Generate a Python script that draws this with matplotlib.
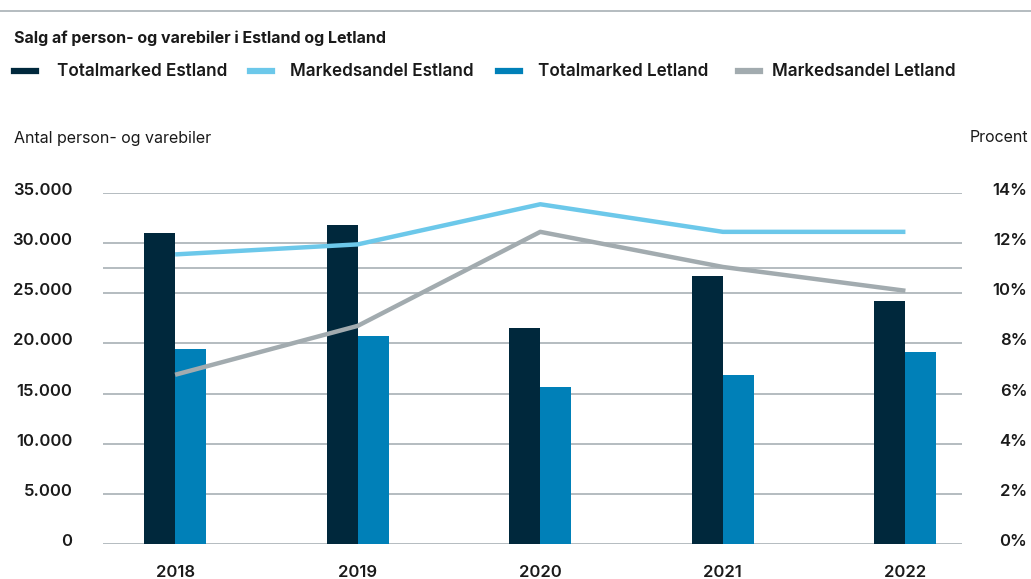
import matplotlib.pyplot as plt
import matplotlib.transforms as mtransforms
import numpy as np

plt.rcParams['font.family'] = ['Inter', 'DejaVu Sans']

# data
years = ['2018', '2019', '2020', '2021', '2022']
total_estland = [31000, 31800, 21500, 26700, 24200]
total_letland = [19400, 20700, 15650, 16850, 19100]
andel_estland = [11.55, 11.95, 13.55, 12.45, 12.45]
andel_letland = [6.75, 8.7, 12.45, 11.05, 10.1]
left_ticks = [0, 5000, 10000, 15000, 20000, 25000, 30000, 35000]
left_labels = ['0', '5.000', '10.000', '15.000', '20.000', '25.000', '30.000', '35.000']
right_ticks = [0, 2, 4, 6, 8, 10, 12, 14]
right_labels = ['0%', '2%', '4%', '6%', '8%', '10%', '12%', '14%']

c_dark = '#00283c'
c_blue = '#0080b8'
c_light = '#6cc8ea'
c_grey = '#a2abaf'
c_grid = '#b4bcc0'
c_text = '#1a1a1a'

fig = plt.figure(figsize=(10.31, 5.79), dpi=100)
ax = fig.add_axes([0.0999, 0.0604, 0.8332, 0.6063])
ax2 = ax.twinx()

x = np.arange(len(years))
w = 0.17
ax.bar(x - w / 2, total_estland, w, color=c_dark, zorder=3)
ax.bar(x + w / 2, total_letland, w, color=c_blue, zorder=3)
ax.set_ylim(0, 35000)
ax.set_xlim(-0.395, 4.31)
ax.set_yticks(left_ticks)
ax.set_yticklabels(left_labels)
for t in left_ticks:
    ax.axhline(t, color=c_grid, lw=1.4, zorder=1)
ax.set_xticks(x)
ax.set_xticklabels(years)

ax2.plot(x, andel_estland, color=c_light, lw=3.2, solid_capstyle='butt', zorder=4)
ax2.plot(x, andel_letland, color=c_grey, lw=3.2, solid_capstyle='butt', zorder=4)
ax2.set_ylim(0, 14)
ax2.set_yticks(right_ticks)
ax2.set_yticklabels(right_labels, ha='right')
ax.axhline(27500, color=c_grid, lw=1.4, zorder=1)

ax.set_zorder(1)
ax2.set_zorder(2)
ax2.patch.set_visible(False)

for a in (ax, ax2):
    for s in a.spines.values():
        s.set_visible(False)
    a.tick_params(length=0, labelsize=12, labelcolor=c_text)
    for lab in a.get_yticklabels() + a.get_xticklabels():
        lab.set_fontweight('semibold')
ax.tick_params(axis='y', pad=22)
ax.tick_params(axis='x', pad=15)
ax2.tick_params(axis='y', pad=47)

# nudge y tick labels up a little, like the original
up = mtransforms.ScaledTranslation(0, 4 / 100, fig.dpi_scale_trans)
for a in (ax, ax2):
    for lab in a.get_yticklabels():
        lab.set_transform(lab.get_transform() + up)

# header
fig.add_artist(plt.Line2D([0, 1], [1 - 11 / 579, 1 - 11 / 579], color=c_grid, lw=1.4))
fig.text(14 / 1031, 1 - 38 / 579, 'Salg af person- og varebiler i Estland og Letland',
         fontsize=11.5, fontweight='bold', va='center', color=c_text)

legend_items = [('Totalmarked Estland', c_dark, 14, 57),
                ('Markedsandel Estland', c_light, 250, 290),
                ('Totalmarked Letland', c_blue, 498, 538),
                ('Markedsandel Letland', c_grey, 738, 772)]
ly = 1 - 71 / 579
for name, col, mx, tx in legend_items:
    fig.add_artist(plt.Line2D([mx / 1031, (mx + 22) / 1031], [ly, ly], color=col, lw=4.5))
    fig.text(tx / 1031, ly, name, fontsize=12.3, fontweight='semibold', va='center', color=c_text)

fig.text(14 / 1031, 1 - 138 / 579, 'Antal person- og varebiler', fontsize=11.5,
         va='center', color=c_text)
fig.text(1028 / 1031, 1 - 138 / 579, 'Procent', fontsize=11.5, va='center', ha='right',
         color=c_text)

fig.savefig('out.png', dpi=100)
